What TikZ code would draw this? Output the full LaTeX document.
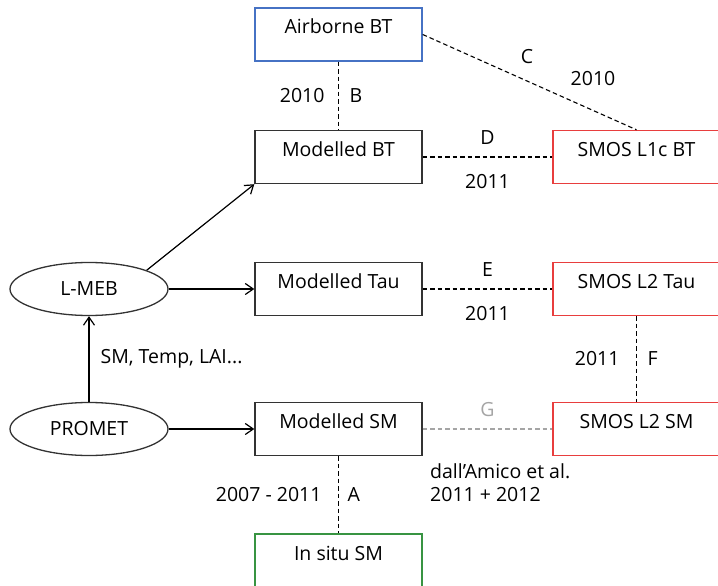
\documentclass[tikz,border=0pt]{standalone}
\usepackage{fontspec}
\setmainfont{Open Sans}
\usetikzlibrary{shapes.geometric, arrows.meta}
\definecolor{boxblue}{RGB}{70,114,196}
\definecolor{boxred}{RGB}{232,62,62}
\definecolor{boxgreen}{RGB}{56,148,66}
\definecolor{linegray}{RGB}{165,165,165}
\tikzset{
  databox/.style={draw=black!80, line width=1.4pt, minimum width=167pt, inner xsep=0pt, inner ysep=0pt, text height=26pt, text depth=27pt},
  model/.style={ellipse, draw=black!80, line width=1.3pt, minimum width=158pt, minimum height=53pt, inner sep=0pt},
  link/.style={line width=1.1pt, dash pattern=on 4.5pt off 3pt},
  flow/.style={-{Straight Barb[length=8pt,width=11pt]}, line width=1.2pt},
  lbl/.style={inner sep=0pt}
}

\begin{document}
\begin{tikzpicture}[x=1pt, y=-1pt, font=\fontsize{19.5}{23}\selectfont]
    \useasboundingbox (0,0) rectangle (718,586);
    \clip (0,0) rectangle (718,586);

    % data boxes
    \node[databox, draw=boxblue] (airbt) at (338.5,34.5) {Airborne BT};
    \node[databox] (modbt) at (338.5,157) {Modelled BT};
    \node[databox] (modtau) at (338.5,289) {Modelled Tau};
    \node[databox] (modsm) at (338.5,429) {Modelled SM};
    \node[databox, draw=boxgreen] (insitu) at (338.5,560.5) {In situ SM};
    \node[databox, draw=boxred] (l1c) at (636.5,157) {SMOS L1c BT};
    \node[databox, draw=boxred] (l2tau) at (636.5,289) {SMOS L2 Tau};
    \node[databox, draw=boxred] (l2sm) at (636.5,429) {SMOS L2 SM};

    % models
    \node[model] (lmeb) at (89,289) {L-MEB};
    \node[model] (promet) at (89,429) {PROMET};

    \draw[flow] (promet) -- node[lbl, right=11pt, anchor=west] {SM, Temp, LAI...} (lmeb);
    \draw[flow] (promet) -- (modsm);
    \draw[flow] (lmeb) -- (modtau);
    \draw[flow] (lmeb.18) -- (modbt.south west);

    % comparisons
    \draw[link] (airbt) -- node[lbl, left=13.5pt] {2010} node[lbl, right=10.5pt] {B} (modbt);
    \draw[link] (airbt.east) -- (l1c.north);
    \node[lbl] (lblc) at (527,57) {C};
    \node[lbl] (lblcyear) at (593,79) {2010};
    \draw[link] (modbt) -- node[lbl, above=12pt] {D} node[lbl, below=17pt] {2011} (l1c);
    \draw[link] (modtau) -- node[lbl, above=12pt] {E} node[lbl, below=17pt] {2011} (l2tau);
    \draw[link] (l2tau) -- node[lbl, left=16.5pt] {2011} node[lbl, right=10.5pt] {F} (l2sm);
    \draw[link, linegray] (modsm) -- node[lbl, above=12pt] {G} (l2sm);
    \node[lbl, anchor=north west, align=left] (dallamico) at (430,463) {dall’Amico et al.\\2011 + 2012};
    \draw[link] (modsm) -- node[lbl, left=16.5pt] {2007 - 2011} node[lbl, right=8.5pt] {A} (insitu);
\end{tikzpicture}
\end{document}
